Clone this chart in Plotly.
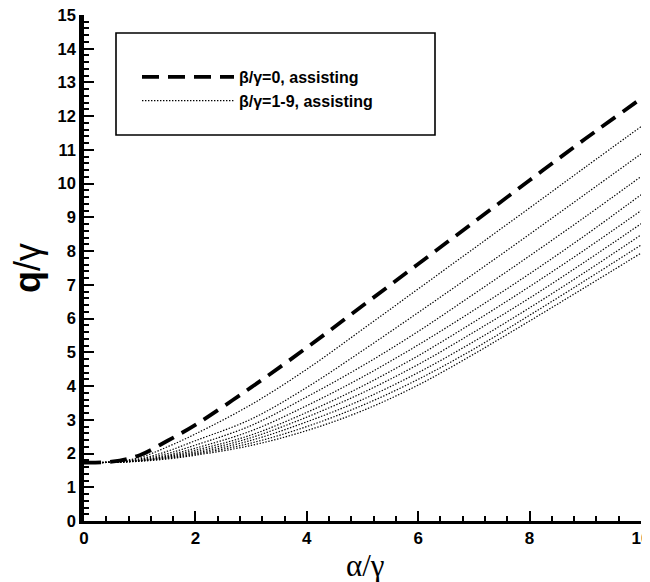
import plotly.graph_objects as go

# alpha/gamma sample positions
alpha = [0, 0.5, 1, 1.5, 2, 3, 4, 5, 6, 7, 8, 9, 10]

# beta/gamma = 0 (dashed)
q_beta0 = [1.73, 1.76, 1.95, 2.38, 2.85, 3.96, 5.14, 6.38, 7.62, 8.86, 10.10, 11.33, 12.52]

# beta/gamma = 1..9 (dotted)
q_beta1 = [1.73, 1.75, 1.88, 2.20, 2.58, 3.45, 4.50, 5.68, 6.88, 8.08, 9.28, 10.49, 11.69]
q_beta2 = [1.73, 1.75, 1.84, 2.07, 2.38, 3.02, 3.96, 5.05, 6.18, 7.33, 8.50, 9.69, 10.88]
q_beta3 = [1.73, 1.74, 1.82, 2.00, 2.25, 2.83, 3.68, 4.60, 5.62, 6.73, 7.86, 9.02, 10.21]
q_beta4 = [1.73, 1.74, 1.80, 1.95, 2.16, 2.67, 3.42, 4.27, 5.22, 6.25, 7.33, 8.47, 9.67]
q_beta5 = [1.73, 1.74, 1.79, 1.92, 2.10, 2.55, 3.22, 4.00, 4.90, 5.90, 6.95, 8.05, 9.20]
q_beta6 = [1.73, 1.74, 1.79, 1.90, 2.05, 2.47, 3.08, 3.80, 4.64, 5.60, 6.61, 7.69, 8.81]
q_beta7 = [1.73, 1.74, 1.78, 1.88, 2.01, 2.39, 2.94, 3.60, 4.40, 5.32, 6.32, 7.38, 8.48]
q_beta8 = [1.73, 1.74, 1.78, 1.86, 1.98, 2.31, 2.80, 3.43, 4.20, 5.10, 6.10, 7.13, 8.18]
q_beta9 = [1.73, 1.74, 1.77, 1.84, 1.95, 2.24, 2.68, 3.27, 4.03, 4.95, 5.93, 6.93, 7.94]

dotted_series = [q_beta1, q_beta2, q_beta3, q_beta4, q_beta5,
                 q_beta6, q_beta7, q_beta8, q_beta9]

legend_labels = ["β/γ=0, assisting", "β/γ=1-9, assisting"]
x_ticks = [0, 2, 4, 6, 8, 10]
y_ticks = list(range(0, 16))

# The page body has an 8px margin, so the figure is made 8px smaller and
# the plot area is placed so that it lands at x 84..641, y 15..521 on screen.
PAGE_OFF = 8
PX_L, PX_R, PX_T, PX_B = 84, 641, 15, 521
W_PLOT = PX_R - PX_L
H_PLOT = PX_B - PX_T


def px_to_paper_x(px):
    return (px - PX_L) / W_PLOT


def px_to_paper_y(py):
    return (PX_B - py) / H_PLOT


fig = go.Figure()

fig.add_trace(go.Scatter(
    x=alpha, y=q_beta0, mode="lines", name=legend_labels[0],
    line=dict(color="black", width=3.8, dash="17px,9px", shape="spline"),
))

for i, q in enumerate(dotted_series):
    fig.add_trace(go.Scatter(
        x=alpha, y=q, mode="lines", name=legend_labels[1],
        legendgroup="dotted", showlegend=(i == 0),
        line=dict(color="black", width=1.2, dash="1.4px,1.6px", shape="spline"),
    ))

# legend frame
fig.add_shape(type="rect", xref="paper", yref="paper",
              x0=px_to_paper_x(116), x1=px_to_paper_x(435),
              y0=px_to_paper_y(135), y1=px_to_paper_y(33),
              line=dict(color="black", width=1.6), fillcolor="rgba(0,0,0,0)")

# axis titles
fig.add_annotation(text="α/γ", xref="paper", yref="paper",
                   x=px_to_paper_x(365), y=px_to_paper_y(565),
                   xanchor="center", yanchor="middle", showarrow=False,
                   font=dict(size=31, family="Liberation Serif, serif", color="black"))
fig.add_annotation(text="<b>q</b>/γ", xref="paper", yref="paper",
                   x=px_to_paper_x(27), y=px_to_paper_y(268),
                   xanchor="center", yanchor="middle", showarrow=False, textangle=-90,
                   font=dict(size=36, family="Liberation Sans, Arial, sans-serif", color="black"))

fig.update_layout(
    width=650 - PAGE_OFF, height=582 - PAGE_OFF,
    margin=dict(l=PX_L - PAGE_OFF, r=650 - PX_R, t=PX_T - PAGE_OFF, b=582 - PX_B),
    paper_bgcolor="white", plot_bgcolor="white",
    font=dict(family="Liberation Sans, Arial, sans-serif", color="black"),
    showlegend=True,
    legend=dict(
        x=px_to_paper_x(137), y=px_to_paper_y(60), xanchor="left", yanchor="top",
        bgcolor="rgba(0,0,0,0)", borderwidth=0,
        font=dict(size=16, weight="bold", family="Liberation Sans, Arial, sans-serif"),
        itemwidth=92, tracegroupgap=0,
    ),
    xaxis=dict(
        range=[0, 10], tickvals=x_ticks, showgrid=False, zeroline=False,
        showline=True, linecolor="black", linewidth=3,
        ticks="inside", ticklen=10, tickwidth=2, tickcolor="black",
        minor=dict(dtick=0.4, ticks="inside", ticklen=5, tickwidth=1.5, tickcolor="black"),
        tickfont=dict(size=17, weight="bold"),
        ticklabeloverflow="allow",
        automargin=False,
    ),
    yaxis=dict(
        range=[0, 15], tickvals=y_ticks, showgrid=False, zeroline=False,
        showline=True, linecolor="black", linewidth=4.5,
        ticks="inside", ticklen=10, tickwidth=2.2, tickcolor="black",
        minor=dict(dtick=0.2, ticks="inside", ticklen=5, tickwidth=1.6, tickcolor="black"),
        tickfont=dict(size=16.5, weight="bold"),
        ticklabeloverflow="allow",
        automargin=False,
    ),
)

fig.write_html("out.html")
